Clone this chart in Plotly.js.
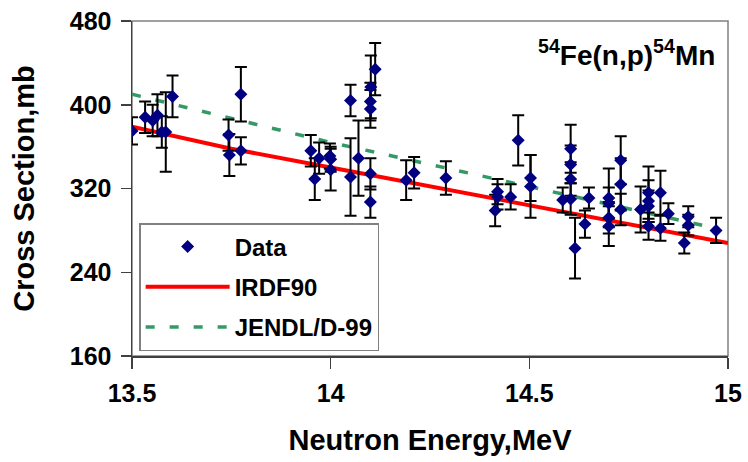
<!DOCTYPE html>
<html>
<head>
<meta charset="utf-8">
<script src="https://cdn.plot.ly/plotly-3.0.1.min.js"></script>
<style>html,body{margin:0;padding:0;background:#fff;}#chart{width:748px;height:462px;}</style>
</head>
<body>
<div id="chart"></div>
<script>
// Measured data points
const energy = [13.50,13.533,13.552,13.564,13.575,13.585,13.602,13.743,13.745,13.774,13.774,
  13.95,13.96,13.971,13.998,14.0,14.0,14.05,14.05,14.07,14.112,14.101,14.10,14.10,14.10,14.10,
  14.19,14.21,14.29,14.414,14.42,14.42,14.453,14.472,14.503,14.503,14.584,14.604,14.604,14.604,14.604,
  14.615,14.64,14.65,14.70,14.70,14.70,14.70,14.73,14.73,14.73,14.78,14.80,14.80,14.80,14.80,
  14.83,14.83,14.85,14.89,14.90,14.90,14.97];
const crossSection = [375,388,385,390,374,374,408,371,352,410,356,
  356,329,349,351,348,338,404,331,349,434,417,403,396,334,307,
  328,335,330,299,317,312,312,366,330,322,309,358,343,329,310,
  263,286,311,311,306,292,284,347,324,300,300,316,308,303,284,
  316,282,296,268,293,285,280];
const errors = [13,15,15,20,15,38,20,15,20,26,13,
  15,20,15,12,12,20,15,37,36,25,30,18,18,15,15,
  19,15,16,15,12,12,12,24,22,30,12,23,18,16,15,
  29,13,10,28,15,15,19,23,25,15,22,25,20,15,13,
  21,12,10,10,10,10,12];

// Evaluated curves
const irdfEnergy = [13.5,13.75,14.0,14.25,14.5,14.75,15.0];
const irdfValues = [379,358,340,322,304,286,268];
const jendlEnergy = [13.5,13.75,14.0,14.25,14.5,14.75,14.97];
const jendlValues = [410,387,364,343,322,301,282];

const xTicks = [13.5,14,14.5,15];
const xTickText = ['13.5','14','14.5','15'];
const yTicks = [160,240,320,400,480];

const FONT = 'Liberation Sans, Arial, sans-serif';

const traces = [
  {x: irdfEnergy, y: irdfValues, type:'scatter', mode:'lines', name:'IRDF90',
   line:{color:'#FF0000', width:4}, legendrank:2, legendgroup:'b'},
  {x: jendlEnergy, y: jendlValues, type:'scatter', mode:'lines', name:'JENDL/D-99',
   line:{color:'#339966', width:3.5, dash:'9px,15px'}, legendrank:3, legendgroup:'c'},
  {x: energy, y: crossSection, type:'scatter', mode:'markers', name:'Data',
   marker:{symbol:'diamond', size:10, color:'#000080'},
   error_y:{type:'data', array: errors, visible:true, color:'#000000', thickness:2, width:6},
   legendrank:1, legendgroup:'a'}
];

const layout = {
  width:748, height:462,
  margin:{l:132, r:20, t:21, b:106},
  paper_bgcolor:'#ffffff', plot_bgcolor:'#ffffff',
  font:{family:FONT, color:'#000000'},
  showlegend:true,
  legend:{x:0.012, y:0.397, xanchor:'left', yanchor:'top',
    bgcolor:'#ffffff', bordercolor:'#808080', borderwidth:1.5,
    font:{family:FONT, size:24, weight:'bold', color:'#000'},
    itemwidth:84, tracegroupgap:6, traceorder:'grouped'},
  xaxis:{range:[13.5,15], tickvals:xTicks, ticktext:xTickText,
    showgrid:false, zeroline:false, showline:true, linecolor:'#404040', linewidth:1.5,
    ticks:'outside', ticklen:11, tickcolor:'#404040', tickwidth:1.5, ticklabelstandoff:3,
    tickfont:{family:FONT, size:25, weight:'bold'},
    title:{text:'Neutron Energy,MeV', font:{family:FONT, size:29, weight:'bold'}, standoff:24}},
  yaxis:{range:[160,480], tickvals:yTicks,
    showgrid:false, zeroline:false, showline:true, linecolor:'#404040', linewidth:1.5,
    ticks:'outside', ticklen:10, tickcolor:'#404040', tickwidth:1.5, ticklabelstandoff:4,
    tickfont:{family:FONT, size:25, weight:'bold'},
    title:{text:'Cross Section,mb', font:{family:FONT, size:29, weight:'bold'}, standoff:26}},
  shapes:[{type:'rect', xref:'paper', yref:'paper', x0:0, x1:1, y0:0, y1:1,
    line:{color:'#808080', width:1.5}, layer:'below'}],
  annotations:[{xref:'paper', yref:'paper', x:0.83, y:0.905, xanchor:'center', yanchor:'middle',
    text:'<sup>54</sup>Fe(n,p)<sup>54</sup>Mn', showarrow:false,
    font:{family:FONT, size:28, weight:'bold', color:'#000'}}]
};

Plotly.newPlot('chart', traces, layout, {staticPlot:true, displayModeBar:false});
</script>
</body>
</html>
